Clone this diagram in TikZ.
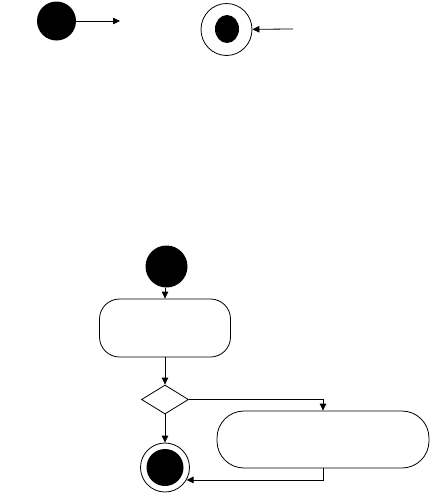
\documentclass[tikz,border=0pt]{standalone}
\usetikzlibrary{arrows.meta,shapes.geometric}

\tikzset{
  dot/.style={circle, fill=black, inner sep=0pt},
  ring/.style={circle, draw, inner sep=0pt},
  activity/.style={draw, rectangle, inner sep=0pt},
  decision/.style={draw, diamond, inner sep=0pt, minimum width=47pt, minimum height=29pt}
}

\begin{document}
\begin{tikzpicture}[x=1pt, y=-1pt, line width=0.8pt, >={Triangle[length=7pt, width=6.5pt]}]
        \useasboundingbox (0,0) rectangle (431,493);

        % ==================== top: the two symbols ====================
        % initial node
        \node[dot, minimum size=39pt] (init) at (56.5,21) {};
        \coordinate (initend) at (120,21);
        \draw[->] (init) -- (initend);

        % final node (ellipse inside ellipse)
        \node[ellipse, draw, inner sep=0pt, minimum width=51pt, minimum height=52pt] (fin) at (226.5,29.5) {};
        \node[ellipse, fill=black, inner sep=0pt, minimum width=24pt, minimum height=28pt] (finin) at (227,29) {};
        \coordinate (finstart) at (293,29);
        \draw[->] (finstart) -- (fin);

        % ==================== bottom: the activity flow ====================
        \node[dot, minimum size=42pt] (start) at (166.5,266.5) {};
        \node[activity, rounded corners=20pt, minimum width=131pt, minimum height=58pt] (act1) at (165,328) {};
        \node[decision] (dec) at (165,399.5) {};
        \node[activity, rounded corners=27pt, minimum width=212pt, minimum height=57pt] (act2) at (323,439.5) {};
        \node[ring, minimum size=49pt] (stop) at (165,467.5) {};
        \node[dot, minimum size=37pt] (stopin) at (165,467.5) {};

        % connectors
        \draw[->] (start.south -| act1.north) -- (act1.north);
        \draw[->] (act1) -- (dec);
        \draw[->] (dec.east) -| (act2.north);
        \draw[->] (dec) -- (stop);
        \draw[->] (act2.south) |- (stop.-30);

    \end{tikzpicture}
\end{document}
